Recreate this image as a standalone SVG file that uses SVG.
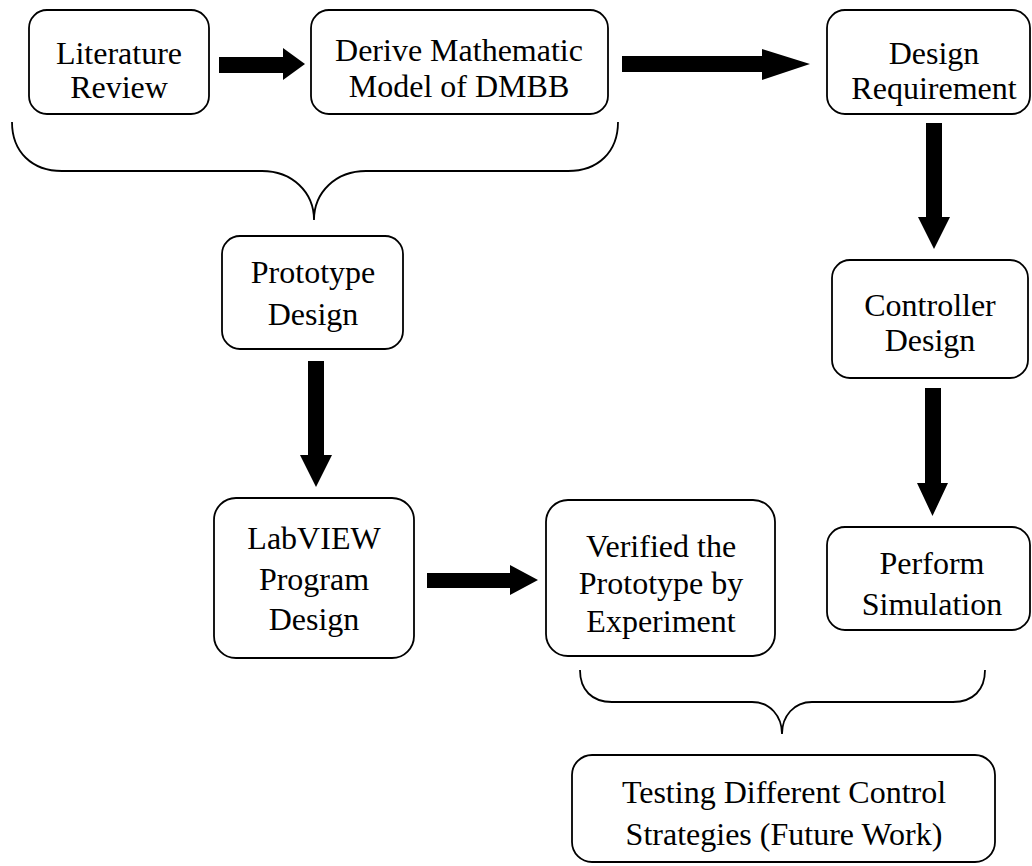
<svg xmlns="http://www.w3.org/2000/svg" width="1032" height="866" viewBox="0 0 1032 866">
<style>
.box{fill:#fff;stroke:#000;stroke-width:1.8}
.t{font-family:"Liberation Serif","Times New Roman",serif;font-size:32px;fill:#000;text-anchor:middle}
.arr{fill:#000;stroke:none}
.brace{fill:none;stroke:#000;stroke-width:1.8}
</style>
<rect width="1032" height="866" fill="#fff"/>
<g id="connectors">
<polygon class="arr" points="219,57 283,57 283,48 305,64 283,80 283,73 219,73"/>
<polygon class="arr" points="622,56 762,56 762,49 810,64 762,80 762,72 622,72"/>
<polygon class="arr" points="926,123 942,123 942,217 950,217 934,249 918,217 926,217"/>
<polygon class="arr" points="925,388 941,388 941,483 948,483 932.5,516 917,483 925,483"/>
<polygon class="arr" points="308,361 324,361 324,455 332,455 316,487 300,455 308,455"/>
<polygon class="arr" points="427,573 510,573 510,565 538,580 510,595 510,588 427,588"/>
<path class="brace" d="M12,122 C12,152 32,171 62,171 L262,171 C292,171 314,192 314,220 C314,192 336,171 366,171 L568,171 C598,171 618,152 618,122"/>
<path class="brace" d="M580,670 C580,690 592,702 612,702 L752,702 C770,702 782,716 782,734 C782,716 794,702 812,702 L953,702 C973,702 985,690 985,670"/>
</g>
<g id="n1"><rect class="box" x="29" y="10" width="180" height="104" rx="18"/>
<text class="t" x="119" y="64">Literature</text><text class="t" x="119" y="98">Review</text></g>
<g id="n2"><rect class="box" x="311" y="10" width="297" height="104" rx="18"/>
<text class="t" x="459" y="61">Derive Mathematic</text><text class="t" x="459" y="97">Model of DMBB</text></g>
<g id="n3"><rect class="box" x="827" y="10" width="203" height="104" rx="18"/>
<text class="t" x="934" y="64">Design</text><text class="t" x="934" y="99">Requirement</text></g>
<g id="n4"><rect class="box" x="832" y="260" width="196" height="118" rx="18"/>
<text class="t" x="930" y="316">Controller</text><text class="t" x="930" y="351">Design</text></g>
<g id="n5"><rect class="box" x="827" y="527" width="203" height="103" rx="18"/>
<text class="t" x="932" y="574">Perform</text><text class="t" x="932" y="615">Simulation</text></g>
<g id="n6"><rect class="box" x="222" y="236" width="181" height="113" rx="18"/>
<text class="t" x="313" y="283">Prototype</text><text class="t" x="313" y="325">Design</text></g>
<g id="n7"><rect class="box" x="214" y="498" width="200" height="160" rx="22"/>
<text class="t" x="314" y="549">LabVIEW</text><text class="t" x="314" y="590">Program</text><text class="t" x="314" y="630">Design</text></g>
<g id="n8"><rect class="box" x="546" y="500" width="229" height="156" rx="22"/>
<text class="t" x="661" y="557">Verified the</text><text class="t" x="661" y="594">Prototype by</text><text class="t" x="661" y="632">Experiment</text></g>
<g id="n9"><rect class="box" x="572" y="755" width="423" height="107" rx="20"/>
<text class="t" x="784" y="803">Testing Different Control</text><text class="t" x="784" y="845">Strategies (Future Work)</text></g>
</svg>
